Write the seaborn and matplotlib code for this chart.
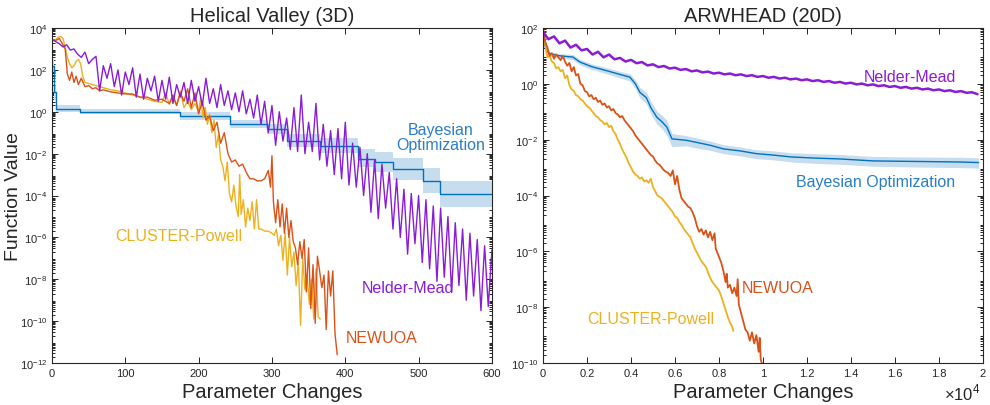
import numpy as np
import matplotlib
matplotlib.use("Agg")
import matplotlib.pyplot as plt
import matplotlib.ticker as mticker
import seaborn as sns

sns.set_theme(style="ticks")
plt.rcParams['font.family'] = ['Liberation Sans', 'DejaVu Sans']
plt.rcParams['mathtext.fontset'] = 'custom'
plt.rcParams['mathtext.rm'] = 'Liberation Sans'

C_BO = '#0072BD'
C_BO_TXT = '#2A7DC6'
C_BAND = '#C6DDF0'
C_NEW = '#D95319'
C_POW = '#EDB120'
C_NM = '#8A1CD6'
INK = '#262626'

# =============================================================
# DATA  (values are log10 of the function value)
# =============================================================

# ---- Helical Valley (3D) ----
hv_bo_x = [0, 3, 6, 38, 175, 243, 293, 320, 365, 418, 441, 465, 506, 529, 600]
hv_bo_log = [2.2, 0.95, 0.14, 0.0, -0.2, -0.58, -0.82, -1.4, -1.63, -2.26, -2.4, -2.73, -3.3, -3.93, -3.93]
hv_bo_hi = [2.5, 1.25, 0.3, 0.12, -0.03, -0.38, -0.57, -1.05, -1.23, -1.8, -1.9, -2.2, -2.7, -3.3, -3.3]
hv_bo_lo = [1.9, 0.55, -0.01, -0.12, -0.4, -0.78, -1.07, -1.7, -1.98, -2.66, -2.9, -3.28, -3.9, -4.55, -4.55]

hv_pow_x = [0, 4, 8, 12, 15, 18, 21, 24, 27, 30, 33, 36, 39, 42, 45, 50, 55, 60, 65, 70,
            80, 90, 100, 110, 120, 130, 140, 150, 155, 160, 165, 170, 175, 180, 185, 190, 195,
            200, 203, 206, 209, 212, 215, 218, 221, 224, 227, 230, 233, 236, 239, 242, 245,
            248, 251, 254, 256, 258, 261, 264, 267, 270, 273, 276, 279, 282, 285, 290, 295,
            300, 303, 306, 309, 312, 315, 318, 321, 324, 327, 330, 333, 336, 339, 342, 345,
            348, 351, 354, 357, 360, 363, 366]
hv_pow_log = [3.5, 3.4, 3.55, 3.6, 3.5, 3.1, 2.6, 2.3, 2.1, 2.2, 2.4, 2.5, 2.3, 1.7, 1.4, 1.35,
              1.3, 1.25, 1.2, 1.15, 1.05, 1.0, 0.9, 0.8, 0.7, 0.6, 0.5, 0.45, 0.9, 0.35, 0.7,
              0.3, 1.0, 0.2, 0.5, 0.1, 0.4, 0.0, 0.7, -0.3, 0.2, -0.6, -0.1, -1.0, -0.4, -1.7,
              -1.1, -2.3, -2.6, -3.3, -2.4, -3.9, -4.3, -3.5, -4.5, -5.0, -3.0, -4.9, -4.2,
              -5.5, -4.6, -5.2, -4.3, -5.6, -4.2, -5.6, -5.6, -5.7, -5.7, -5.8, -5.9, -5.6,
              -6.4, -5.9, -7.1, -5.8, -7.8, -6.0, -7.4, -6.7, -8.3, -7.2, -10.2, -7.0, -8.5,
              -7.8, -9.2, -8.0, -9.9, -7.5, -9.8, -9.9]

hv_new_x = [5, 10, 15, 18, 21, 24, 27, 30, 33, 36, 40, 45, 50, 55, 60, 65, 70, 80, 90, 100,
            110, 120, 130, 140, 150, 160, 165, 170, 175, 180, 185, 190, 195, 200, 205, 210,
            215, 220, 225, 230, 235, 240, 245, 250, 255, 260, 265, 270, 275, 280, 285, 290,
            295, 298, 300, 302, 305, 308, 311, 314, 317, 320, 323, 326, 329, 332, 335, 338,
            341, 344, 347, 350, 353, 356, 359, 362, 365, 368, 371, 374, 377, 380, 383, 386, 389]
hv_new_log = [3.4, 3.5, 3.2, 3.0, 1.8, 1.5, 1.9, 1.4, 1.7, 1.3, 1.6, 1.2, 1.25, 1.1, 1.15,
              1.0, 1.05, 0.95, 0.9, 0.85, 0.85, 0.7, 0.7, 0.55, 0.6, 0.4, 0.8, 0.3, 0.9, 0.5,
              1.1, 0.2, 0.9, -0.1, 0.5, -0.4, -0.2, -0.9, -0.5, -1.5, -1.0, -2.0, -2.4, -2.3,
              -2.6, -2.5, -2.9, -3.2, -3.2, -3.3, -3.3, -3.2, -2.8, -3.6, -2.1, -4.3, -5.3,
              -4.2, -5.5, -4.4, -5.8, -4.6, -6.0, -5.2, -6.2, -6.5, -7.3, -6.2, -7.0, -6.1,
              -8.6, -6.5, -9.4, -7.3, -10.1, -6.9, -7.6, -8.4, -7.8, -10.4, -7.6, -8.8, -7.6,
              -10.6, -11.6]

hv_nm_x = list(range(0, 605, 5))
hv_nm_log = [3.45, 3.35, 3.25, 3.1, 3.2, 2.95, 3.0, 2.75, 2.6, 2.85, 2.3, 2.5, 2.65, 1.0,
             2.2, 1.6, 2.3, 1.2, 2.0, 0.8, 1.9, 1.3, 2.1, 0.7, 1.8, 0.6, 1.6, 1.0, 1.7, 0.5,
             1.5, 0.6, 1.65, 0.4, 1.3, 0.7, 1.4, 0.4, 1.5, 0.5, 1.2, 0.3, 1.6, 0.4, 1.1, 0.2,
             1.3, 0.3, 1.0, 0.1, 0.9, 0.0, 1.0, -0.1, 0.6, -0.3, 0.8, -0.6, 0.5, -1.0,
             0.3, -1.6, 0.0, -1.4, -0.3, -1.8, 0.2, -1.9, 0.8, -2.0, -0.5, -1.9, 0.4, -2.3,
             -0.6, -2.6, -0.9, -3.0, -0.8, -3.2, -0.5, -3.5, -1.5, -3.6, -1.7, -4.0, -2.0,
             -4.8, -2.3, -5.1, -2.5, -4.6, -2.9, -5.6, -3.2, -6.0, -3.7, -6.8, -3.9, -6.3,
             -4.0, -7.2, -4.2, -7.5, -4.5, -8.1, -4.6, -7.9, -5.0, -8.6, -5.3, -8.3, -5.6,
             -9.0, -5.8, -8.8, -6.1, -9.5, -6.4, -9.3, -6.6]

# ---- ARWHEAD (20D) ----
aw_bo_x = [0, 150, 320, 800, 1360, 1680, 2200, 2900, 3400, 3950, 4200, 4400, 4700, 4900,
           5180, 5400, 5630, 5860, 6500, 7000, 7600, 8200, 8950, 9700, 10450, 11300, 12400,
           13500, 15000, 17000, 19000, 19800]
aw_bo_log = [1.6, 1.2, 1.07, 1.0, 0.96, 0.78, 0.62, 0.47, 0.36, 0.24, 0.0, -0.3, -0.5, -0.85,
             -1.2, -1.35, -1.55, -1.97, -2.02, -2.1, -2.2, -2.33, -2.4, -2.5, -2.55, -2.62,
             -2.66, -2.69, -2.76, -2.78, -2.8, -2.82]
aw_bo_hi = [1.7, 1.3, 1.15, 1.08, 1.05, 0.88, 0.72, 0.58, 0.47, 0.36, 0.15, -0.12, -0.3,
            -0.62, -0.98, -1.12, -1.3, -1.78, -1.85, -1.94, -2.05, -2.18, -2.26, -2.36, -2.4,
            -2.47, -2.5, -2.53, -2.6, -2.62, -2.63, -2.65]
aw_bo_lo = [1.5, 1.1, 0.98, 0.92, 0.87, 0.68, 0.52, 0.36, 0.24, 0.1, -0.18, -0.5, -0.72,
            -1.08, -1.45, -1.6, -1.85, -2.25, -2.22, -2.3, -2.38, -2.5, -2.58, -2.68, -2.72,
            -2.8, -2.85, -2.88, -2.95, -2.98, -3.0, -3.02]

aw_pow_x = [0, 100, 200, 300, 400, 500, 600, 700, 800, 900, 1000, 1100, 1200, 1300, 1400,
            1500, 1600, 1700, 1800, 1900, 2000, 2100, 2200, 2300, 2400, 2500, 2600, 2700,
            2800, 2900, 3000, 3100, 3200, 3300, 3400, 3500, 3600, 3700, 3800, 3900, 4000,
            4100, 4200, 4300, 4400, 4500, 4600, 4700, 4800, 4900, 5000, 5100, 5200, 5300,
            5400, 5500, 5600, 5700, 5800, 5900, 6000, 6100, 6200, 6300, 6400, 6500, 6600,
            6700, 6800, 6900, 7000, 7100, 7200, 7300, 7400, 7500, 7600, 7700, 7800, 7900,
            8000, 8100, 8200, 8300, 8400, 8500, 8600, 8650]
aw_pow_log = [2.0, 1.4, 0.95, 1.0, 0.8, 0.75, 0.55, 0.6, 0.45, 0.5, 0.2, 0.3, -0.05, -0.2,
              -0.25, -0.4, -0.45, -0.55, -0.6, -0.7, -0.8, -0.85, -0.95, -1.05, -1.15, -1.2,
              -1.3, -1.35, -1.45, -1.4, -1.55, -1.5, -1.7, -1.8, -2.0, -2.15, -2.35, -2.5,
              -2.65, -2.85, -3.0, -3.15, -3.25, -3.3, -3.4, -3.35, -3.5, -3.45, -3.55, -3.4,
              -3.7, -3.85, -4.0, -4.05, -4.1, -4.2, -4.3, -4.4, -4.5, -4.6, -4.75, -4.8,
              -4.95, -5.05, -5.2, -5.3, -5.4, -5.5, -5.7, -5.9, -6.05, -6.2, -6.35, -6.45,
              -6.55, -6.75, -6.95, -7.1, -7.2, -7.3, -7.4, -7.6, -7.85, -8.1, -8.35, -8.55,
              -8.7, -8.85]

aw_new_x = [0, 100, 200, 300, 400, 500, 600, 700, 800, 900, 1000, 1100, 1200, 1300, 1400,
            1500, 1600, 1700, 1800, 1900, 2000, 2100, 2200, 2300, 2400, 2500, 2600, 2700,
            2800, 2900, 3000, 3100, 3200, 3300, 3400, 3500, 3600, 3700, 3800, 3900, 4000,
            4100, 4200, 4300, 4400, 4500, 4600, 4700, 4800, 4900, 5000, 5100, 5200, 5300,
            5400, 5500, 5600, 5700, 5800, 5900, 6000, 6100, 6200, 6300, 6400, 6500, 6600,
            6700, 6800, 6900, 7000, 7100, 7200, 7300, 7400, 7500, 7600, 7700, 7800, 7850,
            7900, 8000, 8100, 8200, 8300, 8350, 8400, 8500, 8600, 8700, 8800, 8850, 8900,
            9000, 9100, 9200, 9300, 9400, 9500, 9600, 9700, 9800, 9850, 9900, 9950]
aw_new_log = [2.0, 1.5, 1.3, 1.0, 1.1, 0.9, 1.05, 0.95, 0.85, 1.0, 0.8, 0.65, 0.75, 0.45,
              0.6, 0.3, 0.35, 0.0, -0.05, -0.25, -0.3, -0.45, -0.4, -0.55, -0.5, -0.65, -0.6,
              -0.75, -0.7, -0.85, -0.8, -0.95, -0.9, -1.05, -1.1, -1.2, -1.15, -1.3, -1.4,
              -1.5, -1.6, -1.7, -1.85, -1.95, -2.05, -2.15, -2.25, -2.35, -2.45, -2.55, -2.6,
              -2.75, -2.85, -2.9, -3.0, -3.1, -3.15, -3.2, -3.3, -3.1, -3.6, -3.3, -3.8, -4.1,
              -4.2, -4.3, -4.4, -4.45, -4.6, -4.8, -5.1, -5.3, -5.2, -5.4, -5.25, -5.5, -5.3,
              -5.6, -5.35, -5.9, -6.0, -6.2, -6.4, -6.7, -7.1, -6.8, -7.3, -7.2, -7.5, -7.3,
              -7.6, -7.0, -7.9, -8.2, -8.5, -8.8, -8.9, -9.2, -8.9, -9.3, -9.0, -9.6, -9.1,
              -9.9, -10.0]

aw_nm_x = list(range(0, 20000, 250))
aw_nm_log = [1.85, 1.6, 1.7, 1.45, 1.55, 1.3, 1.4, 1.2, 1.25, 1.05, 1.15, 0.95, 1.05, 0.88,
             0.93, 0.8, 0.86, 0.74, 0.78, 0.66, 0.7, 0.6, 0.64, 0.55, 0.58, 0.5, 0.53, 0.45,
             0.48, 0.41, 0.44, 0.37, 0.4, 0.34, 0.37, 0.31, 0.34, 0.28, 0.31, 0.25, 0.28,
             0.22, 0.25, 0.19, 0.22, 0.16, 0.19, 0.13, 0.16, 0.1, 0.13, 0.07, 0.1, 0.04,
             0.07, 0.01, 0.04, -0.02, 0.01, -0.05, -0.02, -0.08, -0.05, -0.11, -0.08, -0.14,
             -0.11, -0.17, -0.14, -0.2, -0.17, -0.23, -0.2, -0.26, -0.23, -0.29, -0.26,
             -0.32, -0.3, -0.37]


def lin(v):
    return np.power(10.0, np.asarray(v, dtype=float))


def style_axes(ax, ylo, yhi, step):
    ax.set_yscale('log')
    ax.set_ylim(10.0 ** ylo, 10.0 ** yhi)
    ax.yaxis.set_major_locator(mticker.FixedLocator([10.0 ** k for k in range(ylo, yhi + 1, step)]))
    ax.yaxis.set_major_formatter(mticker.LogFormatterMathtext())
    ax.yaxis.set_minor_locator(mticker.LogLocator(base=10, subs=np.arange(2, 10), numticks=100))
    ax.yaxis.set_minor_formatter(mticker.NullFormatter())
    for s in ax.spines.values():
        s.set_visible(True)
        s.set_color(INK)
        s.set_linewidth(0.8)
    ax.tick_params(which='both', direction='in', top=True, right=True, colors=INK,
                   labelsize=8, width=0.7)
    ax.tick_params(which='major', length=4)
    ax.tick_params(which='minor', length=2)
    ax.set_facecolor('white')


fig = plt.figure(figsize=(9.9, 4.06), dpi=100)
ax1 = fig.add_axes([0.0525, 0.1034, 0.4444, 0.8251])
ax2 = fig.add_axes([0.5485, 0.1034, 0.4444, 0.8251])

# =============================================================
# LEFT — Helical Valley
# =============================================================
ax1.fill_between(hv_bo_x, lin(hv_bo_lo), lin(hv_bo_hi), step='post', color=C_BAND, lw=0)
sns.lineplot(x=hv_bo_x, y=lin(hv_bo_log), ax=ax1, color=C_BO, lw=1.0, drawstyle='steps-post',
             estimator=None, sort=False)
sns.lineplot(x=hv_pow_x, y=lin(hv_pow_log), ax=ax1, color=C_POW, lw=1.0, estimator=None, sort=False)
sns.lineplot(x=hv_new_x, y=lin(hv_new_log), ax=ax1, color=C_NEW, lw=1.0, estimator=None, sort=False)
sns.lineplot(x=hv_nm_x, y=lin(hv_nm_log), ax=ax1, color=C_NM, lw=1.0, estimator=None, sort=False)

style_axes(ax1, -12, 4, 2)
ax1.set_xlim(0, 600)
ax1.set_xticks(range(0, 700, 100))
ax1.set_title('Helical Valley (3D)', fontsize=14.5, color=INK, pad=5)
ax1.set_xlabel('Parameter Changes', fontsize=14.5, color=INK, labelpad=3)
ax1.set_ylabel('Function Value', fontsize=14, color=INK)
ax1.yaxis.set_label_coords(-0.068, 0.5)

ax1.text(530, 10 ** -1.2, 'Bayesian\nOptimization', color=C_BO_TXT, fontsize=11.5,
         ha='center', va='center', multialignment='center', linespacing=1.05)
ax1.text(86, 10 ** -5.93, 'CLUSTER-Powell', color=C_POW, fontsize=11.5, ha='left', va='center')
ax1.text(423, 10 ** -8.37, 'Nelder-Mead', color=C_NM, fontsize=11.5, ha='left', va='center')
ax1.text(400, 10 ** -10.76, 'NEWUOA', color=C_NEW, fontsize=11.5, ha='left', va='center')

# =============================================================
# RIGHT — ARWHEAD
# =============================================================
ax2.fill_between(aw_bo_x, lin(aw_bo_lo), lin(aw_bo_hi), color=C_BAND, lw=0)
sns.lineplot(x=aw_bo_x, y=lin(aw_bo_log), ax=ax2, color=C_BO, lw=1.0, estimator=None, sort=False)
sns.lineplot(x=aw_pow_x, y=lin(aw_pow_log), ax=ax2, color=C_POW, lw=1.3, estimator=None, sort=False)
sns.lineplot(x=aw_new_x, y=lin(aw_new_log), ax=ax2, color=C_NEW, lw=1.3, estimator=None, sort=False)
sns.lineplot(x=aw_nm_x, y=lin(aw_nm_log), ax=ax2, color=C_NM, lw=1.8, estimator=None, sort=False)

style_axes(ax2, -10, 2, 2)
ax2.set_xlim(0, 20000)
ax2.set_xticks(range(0, 22000, 2000))
ax2.set_xticklabels(['0', '0.2', '0.4', '0.6', '0.8', '1', '1.2', '1.4', '1.6', '1.8', '2'])
ax2.set_title('ARWHEAD (20D)', fontsize=14.5, color=INK, pad=5)
ax2.set_xlabel('Parameter Changes', fontsize=14.5, color=INK, labelpad=3)
ax2.text(0.952, -0.087, r'$\times$10$^4$', transform=ax2.transAxes, fontsize=12,
         color=INK, ha='center', va='center')

ax2.text(14590, 10 ** 0.28, 'Nelder-Mead', color=C_NM, fontsize=11.5, ha='left', va='center')
ax2.text(11500, 10 ** -3.48, 'Bayesian Optimization', color=C_BO_TXT, fontsize=11.5,
         ha='left', va='center')
ax2.text(9045, 10 ** -7.28, 'NEWUOA', color=C_NEW, fontsize=11.5, ha='left', va='center')
ax2.text(2000, 10 ** -8.39, 'CLUSTER-Powell', color=C_POW, fontsize=11.5, ha='left', va='center')

for ax in (ax1, ax2):
    ax.grid(False)

fig.savefig('out.png', dpi=100, facecolor='white')
